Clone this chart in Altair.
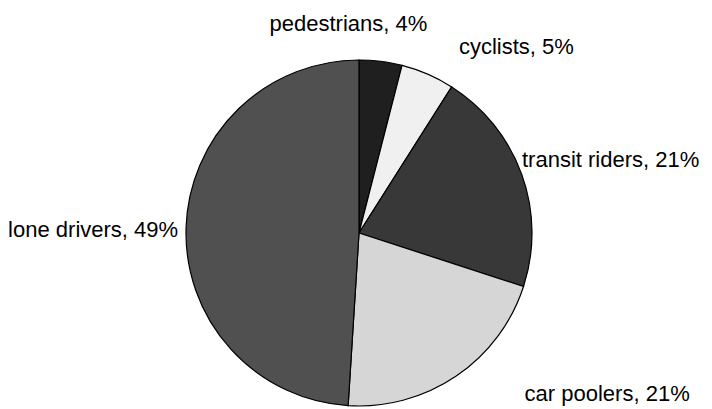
import altair as alt
import pandas as pd

categories = ["pedestrians", "cyclists", "transit riders", "car poolers", "lone drivers"]
shares = [4, 5, 21, 21, 49]
fills = ["#1f1f1f", "#f0f0f0", "#383838", "#d6d6d6", "#505050"]

df = pd.DataFrame({
    "category": categories,
    "share": shares,
    "order": list(range(len(categories))),
    "label": [f"{c}, {s}%" for c, s in zip(categories, shares)],
})

CX, CY, R = 351, 225, 173

base = alt.Chart(df).transform_window(
    cum="sum(share)", sort=[alt.SortField("order")]
).transform_calculate(
    mid="datum.cum - datum.share / 2"
)

pie = alt.Chart(df).mark_arc(radius=R, stroke="black", strokeWidth=1.2).encode(
    theta=alt.Theta("share:Q", stack=True),
    order=alt.Order("order:Q"),
    color=alt.Color("category:N", scale=alt.Scale(domain=categories, range=fills), legend=None),
    x=alt.value(CX),
    y=alt.value(CY),
)

label_styles = {
    "pedestrians": ("center", -35, -15.5),
    "cyclists": ("left", 22.5, -7),
    "transit riders": ("left", -20.5, -7),
    "car poolers": ("left", 56, 0),
    "lone drivers": ("right", 14, 3),
}

layers = [pie]
for cat, (al, dx, dy) in label_styles.items():
    layers.append(
        base.transform_filter(alt.datum.category == cat).mark_text(
            radius=195, align=al, baseline="middle", dx=dx, dy=dy,
            font="Liberation Sans", fontSize=22, color="black",
        ).encode(
            theta=alt.Theta("mid:Q", scale=alt.Scale(domain=[0, 100], range=[0, 6.283185307179586])),
            text="label:N",
            x=alt.value(CX),
            y=alt.value(CY),
        )
    )

chart = alt.layer(*layers).properties(
    width=696, height=400, padding=0,
    autosize=alt.AutoSizeParams(type="none"),
).configure_view(stroke=None)

chart.save("out.html", embed_options={"renderer": "svg", "actions": False})
